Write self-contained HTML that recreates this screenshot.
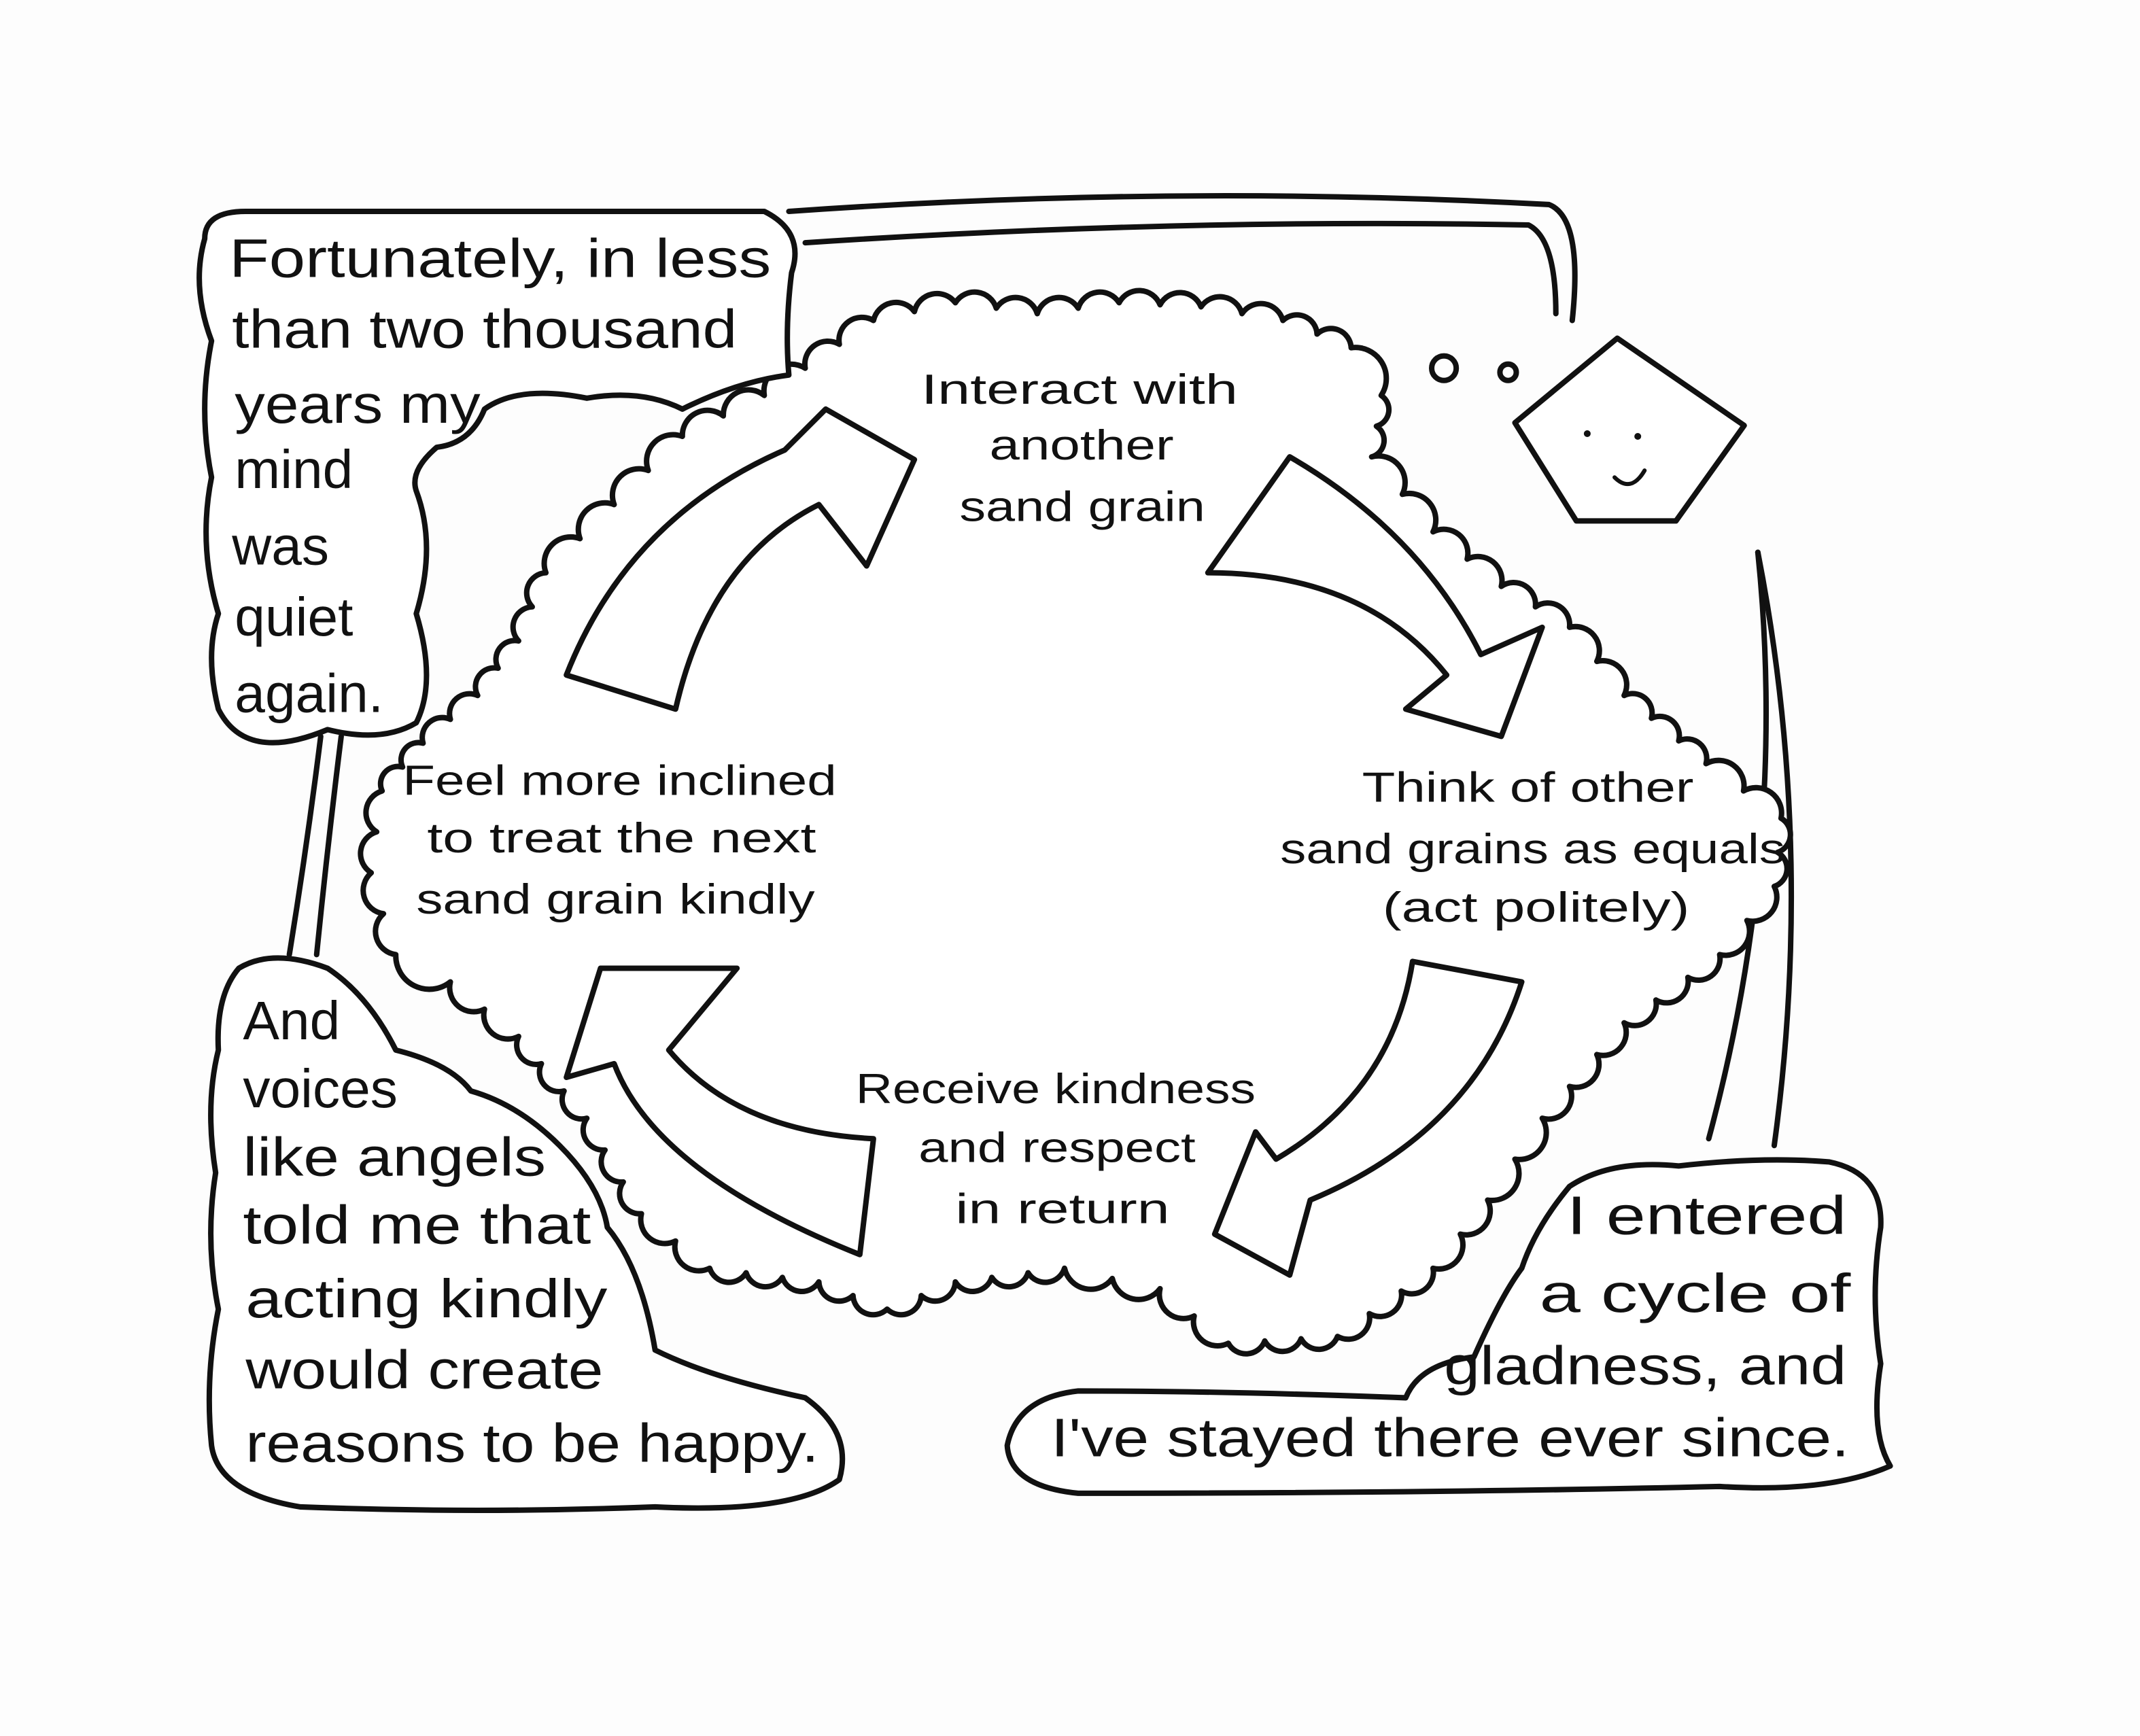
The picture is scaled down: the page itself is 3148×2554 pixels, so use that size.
<!DOCTYPE html>
<html><head><meta charset="utf-8"><style>
html,body{margin:0;padding:0;background:#fdfdfd;}
svg{display:block;}
text{font-family:"Liberation Sans",sans-serif;fill:#111;}
</style></head><body>
<svg width="3148" height="2554" viewBox="0 0 1568 1273" preserveAspectRatio="none" xmlns="http://www.w3.org/2000/svg">
<rect width="1568" height="1273" fill="#fdfdfd"/>
<g fill="none" stroke="#111" stroke-width="4" stroke-linejoin="round" stroke-linecap="round">
<path d="M578,155 Q860,135 1135,150 Q1160,160 1152,235"/>
<path d="M590,178 Q860,160 1120,165 Q1140,175 1140,230"/>
<path d="M235,540 Q225,620 212,700"/>
<path d="M250,540 Q240,620 232,700"/>
<path d="M1252,835 Q1310,620 1288,405"/>
<path d="M1300,840 Q1330,620 1288,405"/>
<path id="cloud" fill="#fff" d="M590,270 A30,30 0 0 1 640,235 A40,40 0 0 1 700,222 A40,40 0 0 1 760,230 A40,40 0 0 1 820,222 A40,40 0 0 1 880,225 A40,40 0 0 1 940,235 A35,35 0 0 1 990,255 A25,25 0 0 1 1012,290 A30,30 0 0 1 1005,335 A40,40 0 0 1 1050,390 A40,40 0 0 1 1100,430 A40,40 0 0 1 1150,460 A40,40 0 0 1 1190,510 A40,40 0 0 1 1250,560 A40,40 0 0 1 1305,600 A30,30 0 0 1 1300,650 A40,40 0 0 1 1260,700 A45,45 0 0 1 1190,750 A45,45 0 0 1 1130,820 A45,45 0 0 1 1090,880 A45,45 0 0 1 1050,930 A45,45 0 0 1 980,980 A45,45 0 0 1 900,985 A40,40 0 0 1 850,945 A45,45 0 0 1 780,930 A45,45 0 0 1 700,940 A40,40 0 0 1 650,960 A40,40 0 0 1 600,940 A45,45 0 0 1 520,930 A40,40 0 0 1 470,890 A45,45 0 0 1 430,820 A45,45 0 0 1 380,760 A40,40 0 0 1 330,720 A30,30 0 0 1 290,700 A40,40 0 0 1 272,640 A40,40 0 0 1 280,580 A40,40 0 0 1 310,545 A40,40 0 0 1 350,510 A40,40 0 0 1 380,470 A40,40 0 0 1 400,420 A45,45 0 0 1 450,370 A45,45 0 0 1 500,320 A45,45 0 0 1 560,290 Z"/>
<path fill="#fff" d="M150,175 Q150,155 180,155 L560,155 Q590,170 580,200 Q575,240 578,275 Q540,280 500,300 Q470,285 430,292 Q380,282 355,300 Q345,325 320,328 Q300,345 305,360 Q320,400 305,450 Q320,500 305,530 Q280,545 240,535 Q180,560 160,520 Q150,480 160,450 Q145,400 155,350 Q145,300 155,250 Q140,210 150,175 Z"/>
<path fill="#fff" d="M175,710 Q200,695 240,710 Q270,730 290,770 Q330,780 345,800 Q380,810 410,840 Q440,870 445,900 Q470,930 480,990 Q520,1010 590,1025 Q625,1050 615,1085 Q580,1110 480,1105 Q350,1110 220,1105 Q160,1095 155,1060 Q150,1010 160,960 Q150,910 158,860 Q150,810 160,770 Q158,730 175,710 Z"/>
<path fill="#fff" d="M1150,870 Q1180,850 1230,855 Q1290,848 1340,852 Q1380,860 1378,900 Q1370,950 1378,1000 Q1370,1050 1385,1075 Q1340,1095 1260,1090 Q1050,1095 790,1095 Q740,1090 738,1060 Q745,1025 790,1020 Q900,1020 1030,1025 Q1040,1000 1080,995 Q1100,950 1115,930 Q1125,900 1150,870 Z"/>
<path fill="#fff" d="M415,495 Q460,380 575,330 L605,300 L670,337 L635,415 L600,370 Q520,410 495,520 Z"/>
<path fill="#fff" d="M945,335 Q1040,390 1085,480 L1130,460 L1100,540 L1030,520 L1060,495 Q1000,420 885,420 Z"/>
<path fill="#fff" d="M1115,720 Q1080,830 960,880 L945,935 L890,905 L920,830 L935,850 Q1020,800 1035,705 Z"/>
<path fill="#fff" d="M630,920 Q480,860 450,780 L415,790 L440,710 L540,710 L490,770 Q540,830 640,835 Z"/>
<circle cx="1058" cy="270" r="9"/>
<circle cx="1105" cy="273" r="6"/>
<path fill="#fff" d="M1185,248 L1278,312 L1228,382 L1155,382 L1110,310 Z"/>
<path d="M1183,350 Q1195,362 1205,345" stroke-width="3"/>
</g>
<circle cx="1163" cy="318" r="2.5" fill="#111"/>
<circle cx="1200" cy="320" r="2.5" fill="#111"/>
<g font-size="40">
<text x="168" y="203" textLength="397" lengthAdjust="spacingAndGlyphs">Fortunately, in less</text>
<text x="170" y="255" textLength="370" lengthAdjust="spacingAndGlyphs">than two thousand</text>
<text x="172" y="310" textLength="180" lengthAdjust="spacingAndGlyphs">years my</text>
<text x="172" y="358">mind</text>
<text x="170" y="414">was</text>
<text x="172" y="466">quiet</text>
<text x="172" y="522">again.</text>
<text x="178" y="762">And</text>
<text x="178" y="812">voices</text>
<text x="178" y="862" textLength="222" lengthAdjust="spacingAndGlyphs">like angels</text>
<text x="178" y="912" textLength="255" lengthAdjust="spacingAndGlyphs">told me that</text>
<text x="180" y="966" textLength="265" lengthAdjust="spacingAndGlyphs">acting kindly</text>
<text x="180" y="1018" textLength="262" lengthAdjust="spacingAndGlyphs">would create</text>
<text x="180" y="1072" textLength="420" lengthAdjust="spacingAndGlyphs">reasons to be happy.</text>
<text x="1148" y="905" textLength="205" lengthAdjust="spacingAndGlyphs">I entered</text>
<text x="1128" y="962" textLength="228" lengthAdjust="spacingAndGlyphs">a cycle of</text>
<text x="1058" y="1015" textLength="295" lengthAdjust="spacingAndGlyphs">gladness, and</text>
<text x="770" y="1068" textLength="585" lengthAdjust="spacingAndGlyphs">I've stayed there ever since.</text>
</g>
<g font-size="31">
<text x="675" y="296" textLength="232" lengthAdjust="spacingAndGlyphs">Interact with</text>
<text x="725" y="337" textLength="135" lengthAdjust="spacingAndGlyphs">another</text>
<text x="703" y="382" textLength="180" lengthAdjust="spacingAndGlyphs">sand grain</text>
<text x="998" y="588" textLength="243" lengthAdjust="spacingAndGlyphs">Think of other</text>
<text x="938" y="633" textLength="370" lengthAdjust="spacingAndGlyphs">sand grains as equals</text>
<text x="1013" y="676" textLength="225" lengthAdjust="spacingAndGlyphs">(act politely)</text>
<text x="295" y="583" textLength="318" lengthAdjust="spacingAndGlyphs">Feel more inclined</text>
<text x="313" y="625" textLength="285" lengthAdjust="spacingAndGlyphs">to treat the next</text>
<text x="305" y="670" textLength="292" lengthAdjust="spacingAndGlyphs">sand grain kindly</text>
<text x="627" y="809" textLength="293" lengthAdjust="spacingAndGlyphs">Receive kindness</text>
<text x="673" y="852" textLength="203" lengthAdjust="spacingAndGlyphs">and respect</text>
<text x="700" y="897" textLength="157" lengthAdjust="spacingAndGlyphs">in return</text>
</g>
</svg>
<script>
(function(){
var P=[[590,270],[640,235],[700,222],[760,230],[820,222],[880,225],[940,235],[990,255],[1012,290],[1005,335],[1050,390],[1100,430],[1150,460],[1190,510],[1250,560],[1305,600],[1300,650],[1260,700],[1190,750],[1130,820],[1090,880],[1050,930],[980,980],[900,985],[850,945],[780,930],[700,940],[650,960],[600,940],[520,930],[470,890],[430,820],[380,760],[330,720],[290,700],[272,640],[280,580],[310,545],[350,510],[380,470],[400,420],[450,370],[500,320],[560,290]];
var d="M"+P[0][0]+","+P[0][1];
for(var i=0;i<P.length;i++){var a=P[i],b=P[(i+1)%P.length];
var L=Math.hypot(b[0]-a[0],b[1]-a[1]);var n=Math.max(1,Math.round(L/30));
for(var k=1;k<=n;k++){var x=a[0]+(b[0]-a[0])*k/n,y=a[1]+(b[1]-a[1])*k/n;var r=(L/n)*0.55;
d+=" A"+r.toFixed(1)+","+r.toFixed(1)+" 0 0 1 "+x.toFixed(1)+","+y.toFixed(1);}}
document.getElementById("cloud").setAttribute("d",d+" Z");
})();
</script>
</body></html>
